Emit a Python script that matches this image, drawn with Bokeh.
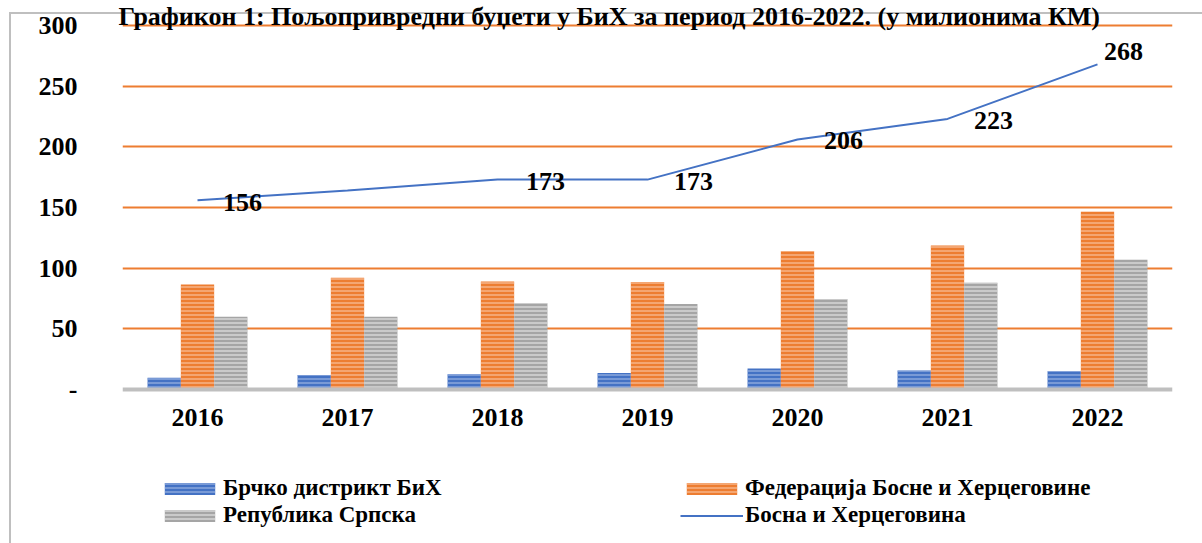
from bokeh.plotting import figure
from bokeh.models import (ColumnDataSource, FactorRange, Range1d, Legend, LegendItem,
                          LabelSet, Title, FixedTicker)
from bokeh.transform import dodge
from bokeh.core.properties import value
from bokeh.embed import file_html
from bokeh.resources import INLINE

# ---- data ----
years = ["2016", "2017", "2018", "2019", "2020", "2021", "2022"]
brcko = [9.6, 12.0, 12.5, 13.5, 17.4, 15.7, 15.0]
fbih = [86.6, 92.0, 89.0, 88.5, 114.0, 118.7, 146.4]
rs = [60.0, 60.0, 71.0, 70.5, 74.5, 88.0, 107.0]
bih = [156, 164, 173, 173, 206, 223, 268]
labelled_years = ["2016", "2018", "2019", "2020", "2021", "2022"]
y_ticks = [0, 50, 100, 150, 200, 250, 300]

title_text = "Графикон 1: Пољопривредни буџети у БиХ за период 2016-2022. (у милионима КМ)"
name_brcko = "Брчко дистрикт БиХ"
name_fbih = "Федерација Босне и Херцеговине"
name_rs = "Република Српска"
name_bih = "Босна и Херцеговина"

# ---- styles ----
FONT = "Liberation Serif"
W, H = 1202, 543
frame_left, frame_right = 122, 1172
frame_top = 23
top_px, axis_px = 25, 389          # pixel rows of the values 300 and 0
y_max_tick = 300
px_per_unit = (axis_px - top_px) / y_max_tick
y_top = y_max_tick + (top_px - frame_top) / px_per_unit
y_bottom = -(H - axis_px) / px_per_unit             # room below the axis for the legend
label_dx = [45, 48, 46, 46, 46, 26]
label_dy = [-2, -2, -2, -1, -2, 13]
GRAY = "#BFBFBF"

src = ColumnDataSource(dict(years=years, brcko=brcko, fbih=fbih, rs=rs, bih=bih))
lab_vals = [bih[years.index(y)] for y in labelled_years]
lab_src = ColumnDataSource(dict(x=labelled_years, y=lab_vals,
                                t=[str(v) for v in lab_vals],
                                dx=label_dx, dy=label_dy))

border_css = (f"linear-gradient({GRAY},{GRAY}) 9px 12px / 2px 1000px no-repeat, "
              f"linear-gradient({GRAY},{GRAY}) 9px 12px / 2000px 2px no-repeat, #ffffff")

p = figure(x_range=FactorRange(*years, range_padding=0),
           y_range=Range1d(y_bottom, y_top),
           width=W, height=H, output_backend="svg", toolbar_location=None,
           min_border_left=frame_left, min_border_top=frame_top,
           min_border_right=W - frame_right, min_border_bottom=0,
           styles={"background": border_css})
p.outline_line_color = None
p.background_fill_color = None
p.border_fill_color = None

bw = 0.222
r1 = p.vbar(x=dodge("years", -bw, range=p.x_range), top="brcko", width=bw, source=src,
            fill_color="#4472C4", line_color=None, hatch_pattern="horizontal_line",
            hatch_color="#9DB5E3", hatch_scale=4, hatch_weight=1.2)
r2 = p.vbar(x=dodge("years", 0, range=p.x_range), top="fbih", width=bw, source=src,
            fill_color="#ED7D31", line_color=None, hatch_pattern="horizontal_line",
            hatch_color="#F8C29E", hatch_scale=4, hatch_weight=1.2)
r3 = p.vbar(x=dodge("years", bw, range=p.x_range), top="rs", width=bw, source=src,
            fill_color="#A5A5A5", line_color=None, hatch_pattern="horizontal_line",
            hatch_color="#E2E2E2", hatch_scale=4, hatch_weight=1.2)
r4 = p.line(x="years", y="bih", source=src, line_color="#4472C4", line_width=2)

labels = LabelSet(x="x", y="y", text="t", source=lab_src, x_offset="dx", y_offset="dy",
                  text_align="center", text_baseline="middle",
                  text_font=value(FONT), text_font_style="bold", text_font_size="26px",
                  text_color="black")
p.add_layout(labels)

# axes
xa = p.xaxis[0]
xa.fixed_location = 0
xa.axis_line_color = GRAY
xa.axis_line_width = 4
xa.major_tick_line_color = None
xa.minor_tick_line_color = None
xa.major_label_standoff = 13
xa.major_label_text_font = FONT
xa.major_label_text_font_style = "bold"
xa.major_label_text_font_size = "26px"
xa.major_label_text_color = "black"

p.yaxis.ticker = FixedTicker(ticks=y_ticks)
p.yaxis.major_label_overrides = {0: "-"}
p.yaxis.axis_line_color = None
p.yaxis.major_tick_line_color = None
p.yaxis.minor_tick_line_color = None
p.yaxis.major_label_standoff = 39
p.yaxis.major_label_text_font = FONT
p.yaxis.major_label_text_font_style = "bold"
p.yaxis.major_label_text_font_size = "26px"
p.yaxis.major_label_text_color = "black"

p.xgrid.grid_line_color = None
p.ygrid.ticker = FixedTicker(ticks=y_ticks[1:])
p.ygrid.grid_line_color = "#ED7D31"
p.ygrid.grid_line_width = 2

# title at the very top
p.add_layout(Title(text=title_text, align="left", offset=118 - frame_left,
                   vertical_align="top", standoff=-18, text_font=FONT,
                   text_font_style="bold", text_font_size="26px", text_color="black"),
             "above")

# legends (two columns below the axis)
def mk_legend(items, x, y):
    lg = Legend(items=items, location=(x, y), orientation="vertical",
                label_text_font=FONT, label_text_font_style="bold",
                label_text_font_size="23px", label_text_color="black",
                glyph_width=63, glyph_height=15, label_standoff=2, spacing=1,
                padding=0, margin=0, border_line_color=None,
                background_fill_alpha=0, label_height=20)
    p.add_layout(lg, "center")

mk_legend([LegendItem(label=name_brcko, renderers=[r1]),
           LegendItem(label=name_rs, renderers=[r3])], 158 - frame_left, 15)
mk_legend([LegendItem(label=name_fbih, renderers=[r2]),
           LegendItem(label=name_bih, renderers=[r4])], 680 - frame_left, 15)

open("out.html", "w").write(file_html(p, INLINE))
